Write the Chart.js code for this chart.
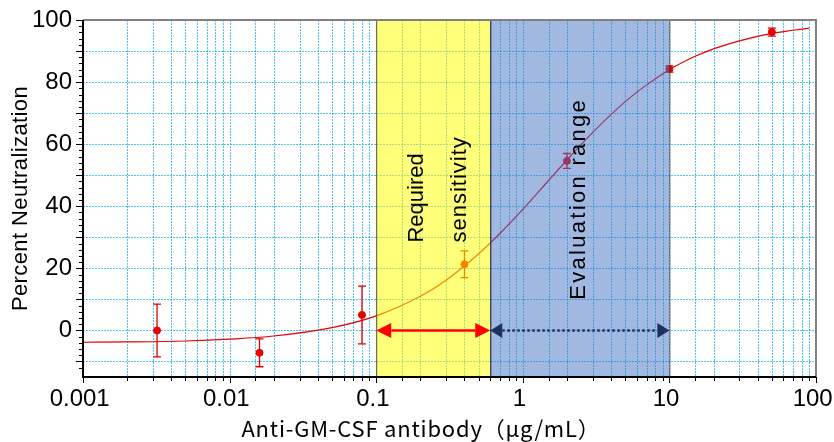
<!DOCTYPE html>
<html>
<head>
<meta charset="utf-8">
<script src="https://cdn.jsdelivr.net/npm/chart.js@4"></script>
<style>
  html, body { margin: 0; padding: 0; background: #fff; }
  #wrap { width: 834px; height: 442px; }
</style>
</head>
<body>
<div id="wrap"><canvas id="chart" width="834" height="442"></canvas></div>
<script>
// measured points: dose (ug/mL), % neutralization, +/- error
const doseX = [0.0032, 0.016, 0.08, 0.4, 2, 10, 50];
const neutY = [0, -7.2, 5, 21.3, 54.6, 84.2, 96.1];
const errY = [8.5, 4.5, 9.3, 4.3, 2.4, 1.0, 1.3];

// fitted curve
const curveX = [0.001, 0.002, 0.005, 0.01, 0.02, 0.05, 0.1, 0.2, 0.3, 0.5, 0.7, 1, 1.5, 2, 3, 5, 7, 10, 15, 20, 30, 50, 70, 90];
const curveY = [-3.8, -3.7, -3.4, -2.8, -1.8, 0.9, 4.7, 11.0, 16.2, 24.7, 31.3, 39.0, 48.3, 54.9, 63.8, 73.7, 79.1, 84.0, 88.3, 90.7, 93.3, 95.7, 96.7, 97.4];

// shaded ranges
const requiredRange = [0.1, 0.6];
const evalRange = [0.6, 10];

const xTickLabels = [0.001, 0.01, 0.1, 1, 10, 100];
const yTickLabels = [0, 20, 40, 60, 80, 100];

const RED = '#e60000';
const GRID = 'rgba(0,170,235,0.7)';
const FONT = '"Liberation Sans", Arial, sans-serif';

const noPad = (s) => { s.paddingTop = 0; s.paddingBottom = 0; s.paddingLeft = 0; s.paddingRight = 0; };

const overlay = {
  id: 'overlay',
  beforeDatasetsDraw(chart) {
    const { ctx, chartArea: a, scales: { x, y } } = chart;
    ctx.save();
    ctx.strokeStyle = GRID;
    ctx.lineWidth = 1;
    ctx.setLineDash([2, 1]);
    x.ticks.forEach(t => {
      const px = Math.round(x.getPixelForValue(t.value)) + 0.5;
      if (px <= a.left + 1 || px >= a.right - 1) return;
      ctx.beginPath(); ctx.moveTo(px, a.top); ctx.lineTo(px, a.bottom); ctx.stroke();
    });
    y.ticks.forEach(t => {
      if (t.value % 10 !== 0) return;
      const py = Math.round(y.getPixelForValue(t.value)) + 0.5;
      if (py <= a.top + 1 || py >= a.bottom - 1) return;
      ctx.beginPath(); ctx.moveTo(a.left, py); ctx.lineTo(a.right, py); ctx.stroke();
    });
    ctx.restore();
  },
  afterDatasetsDraw(chart) {
    const { ctx, chartArea: a, scales: { x, y } } = chart;
    ctx.save();
    // error bars
    ctx.strokeStyle = RED;
    ctx.lineWidth = 1.3;
    doseX.forEach((d, i) => {
      const px = x.getPixelForValue(d);
      const top = y.getPixelForValue(neutY[i] + errY[i]);
      const bot = y.getPixelForValue(neutY[i] - errY[i]);
      ctx.beginPath();
      ctx.moveTo(px, top); ctx.lineTo(px, bot);
      ctx.moveTo(px - 4, top); ctx.lineTo(px + 4, top);
      ctx.moveTo(px - 4, bot); ctx.lineTo(px + 4, bot);
      ctx.stroke();
    });

    // shaded boxes
    const box = (r, fill) => {
      const x1 = x.getPixelForValue(r[0]), x2 = x.getPixelForValue(r[1]);
      ctx.fillStyle = fill;
      ctx.fillRect(x1, a.top, x2 - x1, a.bottom - a.top);
      ctx.strokeStyle = 'rgba(40,40,40,0.75)';
      ctx.lineWidth = 1;
      ctx.strokeRect(x1 + 0.5, a.top + 0.5, x2 - x1, a.bottom - a.top - 1);
    };
    box(requiredRange, 'rgba(255,255,0,0.52)');
    box(evalRange, 'rgba(68,114,196,0.5)');

    // arrows along 0%
    const arrow = (r, color, dashed, hl) => {
      const x1 = x.getPixelForValue(r[0]), x2 = x.getPixelForValue(r[1]);
      const py = y.getPixelForValue(0);
      const hh = 7.5;
      ctx.strokeStyle = color;
      ctx.fillStyle = color;
      ctx.lineWidth = 2.5;
      ctx.setLineDash(dashed ? [2.5, 2.5] : []);
      ctx.beginPath(); ctx.moveTo(x1 + hl, py); ctx.lineTo(x2 - hl, py); ctx.stroke();
      ctx.setLineDash([]);
      ctx.beginPath(); ctx.moveTo(x1, py); ctx.lineTo(x1 + hl, py - hh); ctx.lineTo(x1 + hl, py + hh); ctx.closePath(); ctx.fill();
      ctx.beginPath(); ctx.moveTo(x2, py); ctx.lineTo(x2 - hl, py - hh); ctx.lineTo(x2 - hl, py + hh); ctx.closePath(); ctx.fill();
    };
    arrow(requiredRange, '#ff0000', false, 15);
    arrow(evalRange, '#1f3060', true, 12);

    // box labels
    ctx.fillStyle = '#000';
    ctx.font = '22px ' + FONT;
    const rc = (x.getPixelForValue(requiredRange[0]) + x.getPixelForValue(requiredRange[1])) / 2;
    ctx.save();
    ctx.translate(rc - 16, y.getPixelForValue(28.3));
    ctx.rotate(-Math.PI / 2);
    ctx.textAlign = 'left'; ctx.textBaseline = 'middle';
    ctx.fillText('Required', 0, 0);
    ctx.restore();
    ctx.save();
    ctx.translate(rc + 27, y.getPixelForValue(28.3));
    ctx.rotate(-Math.PI / 2);
    ctx.textAlign = 'left'; ctx.textBaseline = 'middle';
    ctx.letterSpacing = '1px';
    ctx.fillText('sensitivity', 0, 0);
    ctx.restore();
    const ec = (x.getPixelForValue(evalRange[0]) + x.getPixelForValue(evalRange[1])) / 2;
    ctx.save();
    ctx.translate(ec - 1, y.getPixelForValue(42.4));
    ctx.rotate(-Math.PI / 2);
    ctx.textAlign = 'center'; ctx.textBaseline = 'middle';
    ctx.letterSpacing = '2.3px';
    ctx.fillText('Evaluation range', 0, 0);
    ctx.restore();
    ctx.restore();
  },
  afterDraw(chart) {
    const { ctx, chartArea: a, scales: { x, y } } = chart;
    ctx.save();
    // frame
    ctx.strokeStyle = '#808080';
    ctx.lineWidth = 2;
    ctx.beginPath(); ctx.moveTo(a.left, a.top); ctx.lineTo(a.right, a.top); ctx.lineTo(a.right, a.bottom); ctx.stroke();
    ctx.strokeStyle = '#000';
    ctx.beginPath(); ctx.moveTo(a.left, a.top); ctx.lineTo(a.left, a.bottom); ctx.lineTo(a.right, a.bottom); ctx.stroke();
    // ticks
    ctx.lineWidth = 1;
    y.ticks.forEach(t => {
      const py = Math.round(y.getPixelForValue(t.value)) + 0.5;
      if (Math.abs(t.value % 2) > 1e-9) return;
      const len = t.value % 10 === 0 ? 7 : 4;
      ctx.beginPath(); ctx.moveTo(a.left - len, py); ctx.lineTo(a.left, py); ctx.stroke();
    });
    x.ticks.forEach(t => {
      const px = Math.round(x.getPixelForValue(t.value)) + 0.5;
      const lg = Math.log10(t.value);
      const len = Math.abs(lg - Math.round(lg)) < 1e-6 ? 6 : 4;
      ctx.beginPath(); ctx.moveTo(px, a.bottom); ctx.lineTo(px, a.bottom + len); ctx.stroke();
    });
    // axis titles
    ctx.fillStyle = '#000';
    ctx.font = '22px ' + FONT;
    ctx.save();
    ctx.translate(21, (a.top + a.bottom) / 2);
    ctx.rotate(-Math.PI / 2);
    ctx.textAlign = 'center'; ctx.textBaseline = 'middle';
    ctx.letterSpacing = '0.4px';
    ctx.fillText('Percent Neutralization', 0, 0);
    ctx.restore();
    ctx.font = '22px "Noto Sans CJK JP", ' + FONT;
    ctx.textAlign = 'center'; ctx.textBaseline = 'middle';
    ctx.letterSpacing = '0.8px';
    ctx.fillText('Anti-GM-CSF antibody（μg/mL）', 421, 429);
    ctx.restore();
  }
};

new Chart(document.getElementById('chart'), {
  type: 'scatter',
  data: {
    datasets: [
      {
        type: 'line',
        data: curveX.map((v, i) => ({ x: v, y: curveY[i] })),
        borderColor: RED,
        borderWidth: 1.2,
        pointRadius: 0,
        cubicInterpolationMode: 'monotone',
        fill: false
      },
      {
        data: doseX.map((v, i) => ({ x: v, y: neutY[i] })),
        backgroundColor: RED,
        borderColor: RED,
        pointRadius: 3.5,
        showLine: false
      }
    ]
  },
  options: {
    responsive: false,
    animation: false,
    events: [],
    layout: { padding: { left: 0, top: 20, right: 18, bottom: 0 } },
    plugins: { legend: { display: false }, tooltip: { enabled: false } },
    scales: {
      x: {
        type: 'logarithmic',
        min: 0.001,
        max: 100,
        grid: { display: false, drawTicks: false },
        border: { display: false },
        ticks: {
          autoSkip: false,
          maxRotation: 0,
          padding: 8,
          color: '#000',
          font: { family: FONT, size: 24 },
          // trailing space nudges the labels slightly left, as in the original
          callback: (v) => {
            const hit = xTickLabels.find(t => Math.abs(t - v) / t < 1e-6);
            return hit !== undefined ? String(hit) + ' ' : '';
          }
        },
        afterFit: (s) => { s.height = 65; noPad(s); }
      },
      y: {
        min: -15,
        max: 100,
        grid: { display: false, drawTicks: false },
        border: { display: false },
        ticks: {
          stepSize: 2,
          autoSkip: false,
          padding: 11,
          color: '#000',
          font: { family: FONT, size: 24 },
          callback: (v) => yTickLabels.includes(v) ? String(v) : ''
        },
        afterFit: (s) => { s.width = 83; noPad(s); }
      }
    }
  },
  plugins: [overlay]
});
</script>
</body>
</html>
